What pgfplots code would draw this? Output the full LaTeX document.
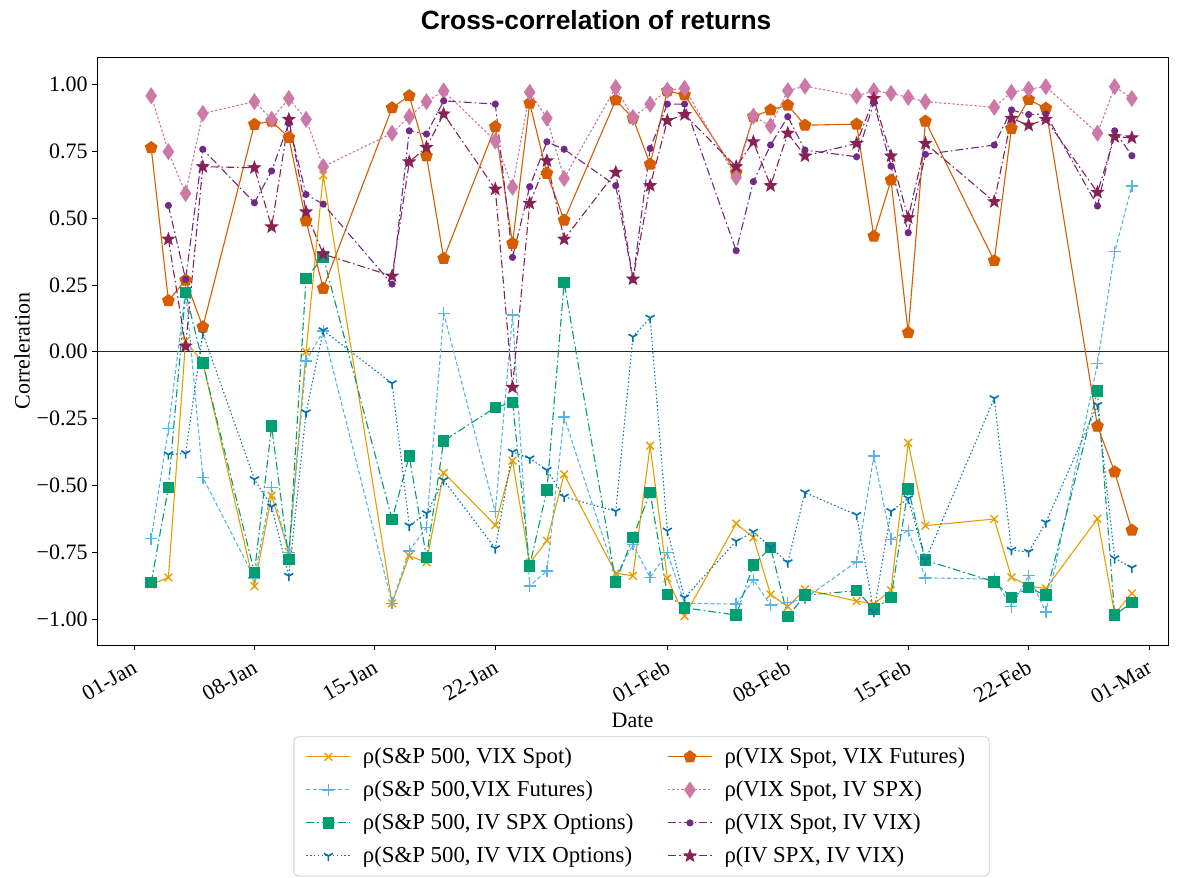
\documentclass[border=0pt]{standalone}
\usepackage{fontspec}
\setmainfont{Liberation Serif}
\newfontfamily\titlefont{Liberation Sans}
\usepackage{pgfplots}
\pgfplotsset{compat=1.18}
\usepackage{pgfplotstable}
\usetikzlibrary{plotmarks}

\definecolor{c1}{HTML}{E69F00}
\definecolor{c2}{HTML}{56B4E9}
\definecolor{c3}{HTML}{009E73}
\definecolor{c4}{HTML}{0072B2}
\definecolor{c5}{HTML}{D55E00}
\definecolor{c6}{HTML}{CC79A7}
\definecolor{c7}{HTML}{6F2A8A}
\definecolor{c8}{HTML}{882255}

\pgfdeclareplotmark{fstar}{%
  \pgfpathmoveto{\pgfpointpolar{90}{\pgfplotmarksize}}%
  \pgfpathlineto{\pgfpointpolar{126}{0.42\pgfplotmarksize}}%
  \pgfpathlineto{\pgfpointpolar{162}{\pgfplotmarksize}}%
  \pgfpathlineto{\pgfpointpolar{198}{0.42\pgfplotmarksize}}%
  \pgfpathlineto{\pgfpointpolar{234}{\pgfplotmarksize}}%
  \pgfpathlineto{\pgfpointpolar{270}{0.42\pgfplotmarksize}}%
  \pgfpathlineto{\pgfpointpolar{306}{\pgfplotmarksize}}%
  \pgfpathlineto{\pgfpointpolar{342}{0.42\pgfplotmarksize}}%
  \pgfpathlineto{\pgfpointpolar{18}{\pgfplotmarksize}}%
  \pgfpathlineto{\pgfpointpolar{54}{0.42\pgfplotmarksize}}%
  \pgfpathclose
  \pgfusepathqfillstroke}

\pgfplotstableread{
d  s1     s2     s3     s4     s5     s6    s7    s8
1  -0.870 -0.698 -0.863 nan    0.763  0.957 nan   nan
2  -0.844 -0.287 -0.507 -0.384 0.191  0.748 0.547 0.421
3  0.040  0.230  0.222  -0.380 0.268  0.592 0.271 0.021
4  -0.040 -0.470 -0.041 0.070  0.093  0.891 0.757 0.692
7  -0.876 -0.845 -0.825 -0.477 0.850  0.935 0.557 0.688
8  -0.538 -0.507 -0.278 -0.579 0.862  0.869 0.676 0.467
9  -0.748 -0.750 -0.776 -0.838 0.801  0.947 0.854 0.869
10 0.000  -0.034 0.274  -0.227 0.489  0.869 0.588 0.523
11 0.660  0.078  0.355  0.080  0.237  0.692 0.552 0.365
15 -0.940 -0.940 -0.627 -0.118 0.912  0.817 0.253 0.283
16 -0.763 -0.744 -0.390 -0.650 0.957  0.879 0.826 0.710
17 -0.787 -0.656 -0.769 -0.604 0.732  0.935 0.814 0.764
18 -0.452 0.144  -0.333 -0.480 0.349  0.975 0.938 0.889
21 -0.648 -0.598 -0.208 -0.735 0.841  0.788 0.926 0.608
22 -0.407 0.137  -0.189 -0.374 0.405  0.615 0.353 -0.133
23 -0.790 -0.875 -0.800 -0.399 0.929  0.970 0.617 0.555
24 -0.706 -0.819 -0.517 -0.442 0.667  0.873 0.785 0.714
25 -0.458 -0.243 0.259  -0.542 0.492  0.648 0.757 0.421
28 -0.828 -0.840 -0.860 -0.596 0.941  0.988 0.621 0.671
29 -0.837 -0.720 -0.694 0.056  0.873  0.876 0.270 0.272
30 -0.351 -0.843 -0.526 0.127  0.701  0.926 0.760 0.621
31 -0.847 -0.751 -0.907 -0.669 0.975  0.978 0.926 0.864
32 -0.988 -0.940 -0.957 -0.919 0.960  0.985 0.926 0.887
35 -0.642 -0.943 -0.984 -0.708 0.670  0.652 0.378 0.692
36 -0.694 -0.853 -0.797 -0.673 0.879  0.881 0.636 0.785
37 -0.907 -0.947 -0.731 -0.731 0.904  0.844 0.773 0.621
38 -0.953 -0.938 -0.990 -0.787 0.922  0.976 0.879 0.817
39 -0.888 -0.922 -0.910 -0.526 0.847  0.993 0.754 0.732
42 -0.932 -0.785 -0.893 -0.610 0.851  0.956 0.729 0.779
43 -0.943 -0.390 -0.962 -0.972 0.432  0.976 0.931 0.947
44 -0.891 -0.701 -0.919 -0.596 0.642  0.966 0.694 0.732
45 -0.340 -0.669 -0.512 -0.548 0.071  0.951 0.445 0.501
46 -0.650 -0.845 -0.779 -0.779 0.862  0.935 0.738 0.779
50 -0.625 -0.850 -0.860 -0.174 0.340  0.914 0.773 0.561
51 -0.843 -0.953 -0.918 -0.741 0.835  0.970 0.904 0.873
52 -0.875 -0.837 -0.882 -0.748 0.943  0.982 0.887 0.847
53 -0.885 -0.972 -0.910 -0.638 0.910  0.991 0.889 0.869
56 -0.624 -0.043 -0.147 -0.199 -0.278 0.817 0.545 0.596
57 -0.980 0.374  -0.984 -0.772 -0.449 0.991 0.826 0.804
58 -0.903 0.620  -0.937 -0.807 -0.667 0.947 0.733 0.800
}\corrdata

\newcommand{\fs}{\fontsize{11}{13}\selectfont}

\tikzset{
  st1/.style={c1, line width=0.55pt, solid, mark=x, mark size=2.7pt, mark options={solid, line width=0.7pt}},
  st2/.style={c2, line width=0.55pt, dash pattern=on 2pt off 1.2pt, mark=+, mark size=3pt, mark options={solid, line width=0.7pt}},
  st3/.style={c3, line width=0.55pt, dash pattern=on 4pt off 1.5pt on 0.8pt off 1.5pt, mark=square*, mark size=2.6pt, mark options={solid, fill=c3}},
  st4/.style={c4, line width=0.55pt, dash pattern=on 0.7pt off 1.2pt, mark=Mercedes star flipped, mark size=2.6pt, mark options={solid, line width=0.8pt}},
  st5/.style={c5, line width=0.55pt, solid, mark=pentagon*, mark size=3pt, mark options={solid, fill=c5}},
  st6/.style={c6, line width=0.55pt, dash pattern=on 1.2pt off 1pt, mark=diamond*, mark size=3.8pt, mark options={solid, fill=c6, xscale=0.9}},
  st7/.style={c7, line width=0.55pt, dash pattern=on 4pt off 1.5pt on 0.8pt off 1.5pt, mark=*, mark size=1.5pt, mark options={solid, fill=c7}},
  st8/.style={c8, line width=0.55pt, dash pattern=on 4pt off 1.5pt on 0.8pt off 1.5pt, mark=fstar, mark size=3pt, mark options={solid, fill=c8}},
}

\begin{document}
\begin{tikzpicture}
\useasboundingbox (0,0) rectangle (589pt,439pt);
\begin{axis}[
  scale only axis,
  width=535.5pt, height=294pt,
  at={(48.5pt,116.5pt)}, anchor=south west,
  xmin=-2.15, xmax=60.1, ymin=-1.096, ymax=1.102,
  xtick={0,7,14,21,31,38,45,52,59},
  xticklabels={01-Jan,08-Jan,15-Jan,22-Jan,01-Feb,08-Feb,15-Feb,22-Feb,01-Mar},
  ytick={-1,-0.75,-0.5,-0.25,0,0.25,0.5,0.75,1},
  yticklabels={−1.00,−0.75,−0.50,−0.25,0.00,0.25,0.50,0.75,1.00},
  tick align=outside, tick pos=left,
  major tick length=2.5pt,
  every tick/.style={black, line width=0.4pt},
  axis line style={black, line width=0.4pt},
  tick label style={font=\fs},
  xticklabel style={rotate=30, anchor=north east, inner sep=1pt, yshift=-2pt, xshift=-2.5pt},
  yticklabel style={inner sep=2pt},
  every axis title shift=0pt,
  title={\titlefont\bfseries Cross-correlation of returns},
  title style={at={(0.466,1.063)}, anchor=center, font=\fontsize{13.2}{15}\selectfont},
  xlabel={Date},
  ylabel={Correleration},
  label style={font=\fs},
  xlabel style={at={(axis description cs:0.5,-0.1276)}, anchor=center},
  ylabel style={at={(axis description cs:-0.070,0.5)}, anchor=center},
  legend style={at={(0.5084,-0.1555)}, anchor=north, draw=black!20, rounded corners=2pt,
    font=\fontsize{11.4}{13}\selectfont, legend columns=2, row sep=3.1pt, inner xsep=6pt, inner ysep=3.3pt,
    nodes={inner xsep=6pt},
    /tikz/every even column/.append style={column sep=11pt}},
  legend cell align=left,
  legend image code/.code={\draw[mark repeat=2, mark phase=2] plot coordinates {(0pt,0pt) (11pt,0pt) (22pt,0pt)};},
]
\addplot[black!85, line width=0.5pt, forget plot] coordinates {(-5,0) (65,0)};
\addplot[st1, forget plot] table[x=d, y=s1] {\corrdata};
\addplot[st2, forget plot] table[x=d, y=s2] {\corrdata};
\addplot[st3, forget plot] table[x=d, y=s3] {\corrdata};
\addplot[st4, forget plot] table[x=d, y=s4] {\corrdata};
\addplot[st5, forget plot] table[x=d, y=s5] {\corrdata};
\addplot[st6, forget plot] table[x=d, y=s6] {\corrdata};
\addplot[st7, forget plot] table[x=d, y=s7] {\corrdata};
\addplot[st8, forget plot] table[x=d, y=s8] {\corrdata};
\addlegendimage{st1}\addlegendentry{ρ(S\&P 500, VIX Spot)}
\addlegendimage{st5}\addlegendentry{ρ(VIX Spot, VIX Futures)}
\addlegendimage{st2}\addlegendentry{ρ(S\&P 500,VIX Futures)}
\addlegendimage{st6}\addlegendentry{ρ(VIX Spot, IV SPX)}
\addlegendimage{st3}\addlegendentry{ρ(S\&P 500, IV SPX Options)}
\addlegendimage{st7}\addlegendentry{ρ(VIX Spot, IV VIX)}
\addlegendimage{st4}\addlegendentry{ρ(S\&P 500, IV VIX Options)}
\addlegendimage{st8}\addlegendentry{ρ(IV SPX, IV VIX)}
\end{axis}
\end{tikzpicture}
\end{document}
